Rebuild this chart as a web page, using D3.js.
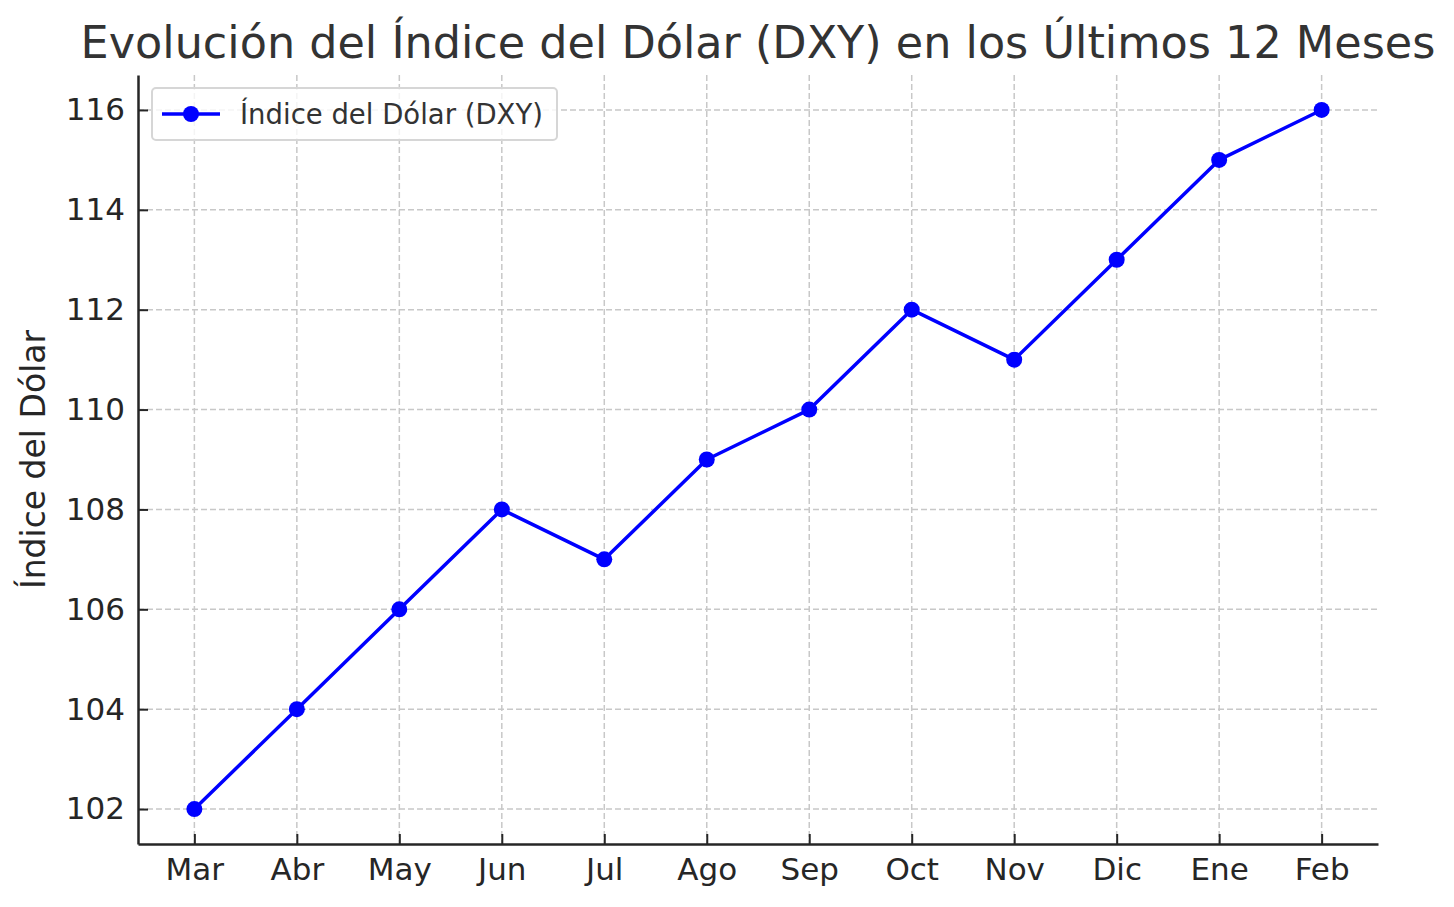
<!DOCTYPE html>
<html>
<head>
<meta charset="utf-8">
<script src="https://cdn.jsdelivr.net/npm/d3@7"></script>
<style>
  body { margin: 0; background: #fff; }
  text { font-family: "DejaVu Sans", sans-serif; }
</style>
</head>
<body>
<div id="chart"></div>
<script>
var months = ['Mar', 'Abr', 'May', 'Jun', 'Jul', 'Ago', 'Sep', 'Oct', 'Nov', 'Dic', 'Ene', 'Feb'];
var dxyValues = [102, 104, 106, 108, 107, 109, 110, 112, 111, 113, 115, 116];
var yTicks = [102, 104, 106, 108, 110, 112, 114, 116];
var titleText = 'Evolución del Índice del Dólar (DXY) en los Últimos 12 Meses';
var yLabelText = 'Índice del Dólar';
var seriesName = 'Índice del Dólar (DXY)';

var width = 1454, height = 907;
var margin = {top: 75, right: 76, bottom: 63, left: 138};
var innerW = width - margin.left - margin.right,
  innerH = height - margin.top - margin.bottom;
var textColor = '#262626';

var svg = d3.select('#chart').append('svg')
  .attr('width', width)
  .attr('height', height);

var g = svg.append('g')
  .attr('transform', 'translate(' + margin.left + ',' + margin.top + ')');

// index scale, padded like matplotlib's 5% margins
var x = d3.scaleLinear()
  .domain([-0.55, months.length - 1 + 0.55])
  .range([0, innerW]);

var y = d3.scaleLinear()
  .domain([101.3, 116.7])
  .range([innerH, 0]);

// grid
g.append('g').selectAll('line.vg')
  .data(months).enter().append('line')
  .attr('x1', function(d, i) { return x(i); })
  .attr('x2', function(d, i) { return x(i); })
  .attr('y1', 0).attr('y2', innerH)
  .attr('stroke', '#c8c8c8').attr('stroke-width', 1.5)
  .attr('stroke-dasharray', '6,3');

g.append('g').selectAll('line.hg')
  .data(yTicks).enter().append('line')
  .attr('x1', 0).attr('x2', innerW)
  .attr('y1', function(d) { return y(d); })
  .attr('y2', function(d) { return y(d); })
  .attr('stroke', '#c8c8c8').attr('stroke-width', 1.5)
  .attr('stroke-dasharray', '6,3');

// axes, ticks pointing inward
var xAxis = d3.axisBottom(x)
  .tickValues(d3.range(months.length))
  .tickFormat(function(i) { return months[i]; })
  .tickSizeInner(-10).tickSizeOuter(0).tickPadding(14);

var yAxis = d3.axisLeft(y)
  .tickValues(yTicks)
  .tickSizeInner(-10).tickSizeOuter(0).tickPadding(13);

var gx = g.append('g')
  .attr('transform', 'translate(0,' + innerH + ')')
  .call(xAxis);
var gy = g.append('g').call(yAxis);

[gx, gy].forEach(function(ax) {
  ax.select('.domain').attr('stroke', textColor).attr('stroke-width', 2.5);
  ax.selectAll('.tick line').attr('stroke', textColor).attr('stroke-width', 2);
  ax.selectAll('.tick text')
    .attr('fill', textColor)
    .style('font-size', '31px')
    .style('font-family', '"DejaVu Sans", sans-serif');
});

// line + markers
var line = d3.line()
  .x(function(d, i) { return x(i); })
  .y(function(d) { return y(d); });

g.append('path')
  .datum(dxyValues)
  .attr('d', line)
  .attr('fill', 'none')
  .attr('stroke', '#0000ff')
  .attr('stroke-width', 3.5)
  .attr('stroke-linejoin', 'round');

g.selectAll('circle.pt')
  .data(dxyValues).enter().append('circle')
  .attr('cx', function(d, i) { return x(i); })
  .attr('cy', function(d) { return y(d); })
  .attr('r', 8)
  .attr('fill', '#0000ff');

// title
svg.append('text')
  .attr('x', margin.left + innerW / 2)
  .attr('y', 58)
  .attr('text-anchor', 'middle')
  .attr('fill', '#333')
  .style('font-size', '44.5px')
  .text(titleText);

// y label
svg.append('text')
  .attr('transform', 'translate(45,' + (margin.top + innerH / 2) + ') rotate(-90)')
  .attr('text-anchor', 'middle')
  .attr('fill', textColor)
  .style('font-size', '33px')
  .text(yLabelText);

// legend
var legend = svg.append('g').attr('transform', 'translate(152,88)');
legend.append('rect')
  .attr('width', 405).attr('height', 52)
  .attr('rx', 4)
  .attr('fill', '#fff').attr('fill-opacity', 0.8)
  .attr('stroke', '#d6d6d6').attr('stroke-width', 2);
legend.append('line')
  .attr('x1', 10).attr('x2', 68)
  .attr('y1', 26).attr('y2', 26)
  .attr('stroke', '#0000ff').attr('stroke-width', 3.5);
legend.append('circle')
  .attr('cx', 39).attr('cy', 26).attr('r', 8)
  .attr('fill', '#0000ff');
legend.append('text')
  .attr('x', 88).attr('y', 36)
  .attr('fill', '#333')
  .style('font-size', '27.5px')
  .text(seriesName);
</script>
</body>
</html>
